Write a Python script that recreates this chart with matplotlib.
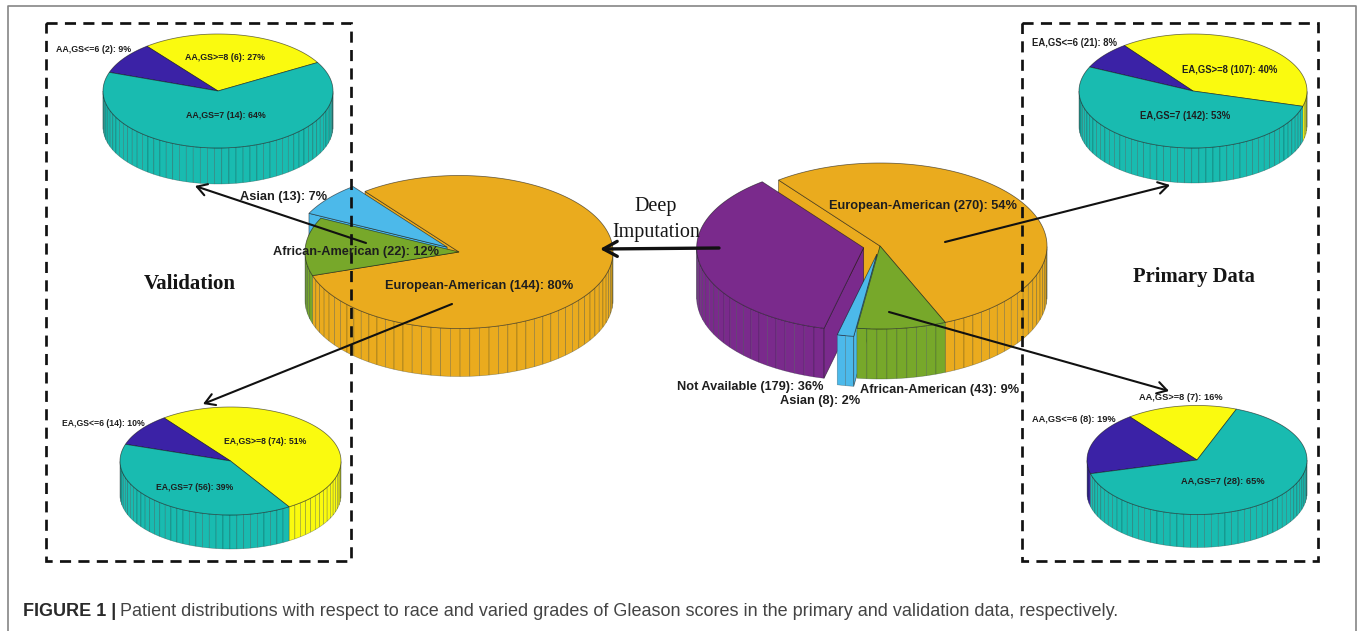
import math
import numpy as np
import matplotlib
matplotlib.use("Agg")
import matplotlib.pyplot as plt
from matplotlib.patches import Polygon, Rectangle

# ---- patient counts ----
primary_names = ["European-American", "Not Available", "Asian", "African-American"]
primary_counts = [270, 179, 8, 43]
validation_names = ["European-American", "Asian", "African-American"]
validation_counts = [144, 13, 22]

grade_names = ["GS>=8", "GS<=6", "GS=7"]
val_aa_counts = [6, 2, 14]
val_ea_counts = [74, 14, 56]
pri_ea_counts = [107, 21, 142]
pri_aa_counts = [7, 8, 28]

# ---- colours ----
ORANGE, PURPLE, SKY, GREEN = "#EAAB1E", "#7A2A8C", "#4CB9EA", "#77A82A"
YELLOW, INDIGO, TEAL = "#FAFA0F", "#3B22A6", "#19BBB0"
INK = "#1E1E1E"

fig = plt.figure(figsize=(13.57, 6.31), dpi=100)
ax = fig.add_axes([0, 0, 1, 1])
ax.set_xlim(0, 1357)
ax.set_ylim(631, 0)
ax.axis("off")


def arc(cx, cy, rx, ry, angles):
    t = np.radians(angles)
    return np.column_stack([cx + rx * np.cos(t), cy - ry * np.sin(t)])


def pie3(counts, colors, centre, rx, ry, depth, start, explode=None):
    """Extruded pie with one wall panel per percent, as MATLAB's pie3 draws it."""
    cx, cy = centre
    total = sum(counts)
    shares = [c / total for c in counts]
    explode = explode or [0] * len(counts)
    n = len(counts)
    wall_edge = (0.03, 0.10, 0.10, 0.36)
    top_edge = (0.05, 0.05, 0.05, 0.6)
    tops = []
    a0 = start
    for i, share in enumerate(shares):
        a1 = a0 + share * 360
        mid = math.radians((a0 + a1) / 2)
        ox = cx + explode[i] * rx * math.cos(mid)
        oy = cy - explode[i] * ry * math.sin(mid)
        col = colors[i]

        # outer wall, only the part facing the viewer
        panels = max(1, round(share * 100))
        steps = np.linspace(a0, a1, panels + 1)
        for s0, s1 in zip(steps[:-1], steps[1:]):
            th = np.linspace(s0, s1, 7)
            th = th[np.sin(np.radians(th)) <= 1e-9]
            if len(th) < 2:
                continue
            upper = arc(ox, oy, rx, ry, th)
            lower = upper[::-1] + [0, depth]
            ax.add_patch(Polygon(np.vstack([upper, lower]), closed=True, fc=col,
                                 ec=wall_edge, lw=0.42, zorder=2))

        # radial cut faces show only beside a pulled-out slice
        open_start = explode[i] > 0 or explode[(i - 1) % n] > 0
        open_end = explode[i] > 0 or explode[(i + 1) % n] > 0
        for ang, normal, is_open in ((a0, a0 - 90, open_start), (a1, a1 + 90, open_end)):
            if is_open and math.sin(math.radians(normal)) < 0:
                rim = arc(ox, oy, rx, ry, [ang])[0]
                ax.add_patch(Polygon([(ox, oy), rim, rim + [0, depth], (ox, oy + depth)],
                                     closed=True, fc=col, ec=top_edge, lw=0.5, zorder=2))

        rim = arc(ox, oy, rx, ry, np.linspace(a0, a1, max(8, int(share * 360))))
        tops.append((np.vstack([[(ox, oy)], rim]), col))
        a0 = a1

    # top surfaces go over every wall and face of this pie
    for outline, col in tops:
        ax.add_patch(Polygon(outline, closed=True, fc=col, ec=top_edge, lw=0.55, zorder=3))


def tag(prefix, names, counts):
    total = sum(counts)
    return [f"{prefix}{nm} ({c}): {round(100 * c / total)}%" for nm, c in zip(names, counts)]


def put_labels(texts, spots, size):
    for txt, (x, y) in zip(texts, spots):
        ax.text(x, y, txt, ha="center", va="center", fontsize=size, fontweight="bold",
                family="Liberation Sans", color=INK, zorder=6)


# ---- central pies ----
pie3(validation_counts, [ORANGE, SKY, GREEN], (459, 252), 154, 76.5, 48, 198,
     explode=[0, 0.1, 0])
pie3(primary_counts, [ORANGE, PURPLE, SKY, GREEN], (880, 246), 167, 83, 50, -67,
     explode=[0, 0.1, 0.1, 0])

# ---- grade breakdown pies ----
grade_colors = [YELLOW, INDIGO, TEAL]
pie3(val_aa_counts, grade_colors, (218, 91), 115, 57, 36, 30)
pie3(val_ea_counts, grade_colors, (230.5, 461), 110.5, 54, 34, -58)
pie3(pri_ea_counts, grade_colors, (1193, 91), 114, 57, 35, -15.6)
pie3(pri_aa_counts, grade_colors, (1197, 460), 110, 54.5, 33, 69)

# ---- labels ----
put_labels(tag("", validation_names, validation_counts),
           [(479, 286), (284, 197), (356, 252)], 9.2)
put_labels(tag("", primary_names, primary_counts),
           [(923, 206), (750, 387), (820, 401), (940, 390)], 9.2)
put_labels(tag("AA,", grade_names, val_aa_counts),
           [(225, 58), (93.5, 49), (226, 115)], 6.4)
put_labels(tag("EA,", grade_names, val_ea_counts),
           [(265.5, 442), (103.5, 423), (195, 487)], 6.2)
put_labels(tag("EA,", grade_names, pri_ea_counts),
           [(1229.5, 70), (1074, 43), (1185.5, 116)], 6.85)
put_labels(tag("AA,", grade_names, pri_aa_counts),
           [(1181, 398), (1073.5, 419), (1222.5, 481)], 6.65)

# ---- dashed group boxes ----
for (x0, y0, x1, y1) in ((46, 23, 351, 561), (1022, 23, 1318, 561)):
    ax.add_patch(Rectangle((x0, y0), x1 - x0, y1 - y0, fill=False, ec="#111111", lw=1.95,
                           ls=(0, (4.1, 2.7)), zorder=4))

# ---- arrows ----
for tail, tip in (((366, 243), (195, 186)), ((452, 304), (203, 404)),
                  ((945, 242), (1170, 185)), ((889, 312), (1169, 391))):
    ax.annotate("", xy=tip, xytext=tail, zorder=5,
                arrowprops=dict(arrowstyle="->,head_length=0.5,head_width=0.3", lw=1.5,
                                color="#111111", shrinkA=0, shrinkB=0, mutation_scale=14))
ax.annotate("", xy=(600, 249), xytext=(719, 248), zorder=5,
            arrowprops=dict(arrowstyle="->,head_length=0.55,head_width=0.3", lw=2.4,
                            color="#111111", shrinkA=0, shrinkB=0, mutation_scale=18))

# ---- headings ----
for txt, x, y, wgt, size in (("Validation", 190, 284, "bold", 15.1),
                             ("Primary Data", 1194, 277, "bold", 14.9),
                             ("Deep", 656, 207, "normal", 14.5),
                             ("Imputation", 656, 232, "normal", 14.5)):
    ax.text(x, y, txt, ha="center", va="center", fontsize=size, fontweight=wgt,
            family="Liberation Serif", color="#151515", zorder=6)

# ---- page frame and caption ----
ax.plot([7.5, 7.5, 1355.5, 1355.5], [631, 6, 6, 631], color="#858585", lw=1.2, zorder=1)
head = ax.text(23, 611, "FIGURE 1 |", ha="left", va="center", fontsize=13,
               fontweight="bold", family="Liberation Sans", color="#2A2A2A")
fig.canvas.draw()
head_end = head.get_window_extent().transformed(ax.transData.inverted()).x1
ax.text(head_end + 4, 611,
        "Patient distributions with respect to race and varied grades of Gleason scores "
        "in the primary and validation data, respectively.",
        ha="left", va="center", fontsize=13, family="Liberation Sans", color="#444444")

fig.savefig("out.png", dpi=100, facecolor="white")
